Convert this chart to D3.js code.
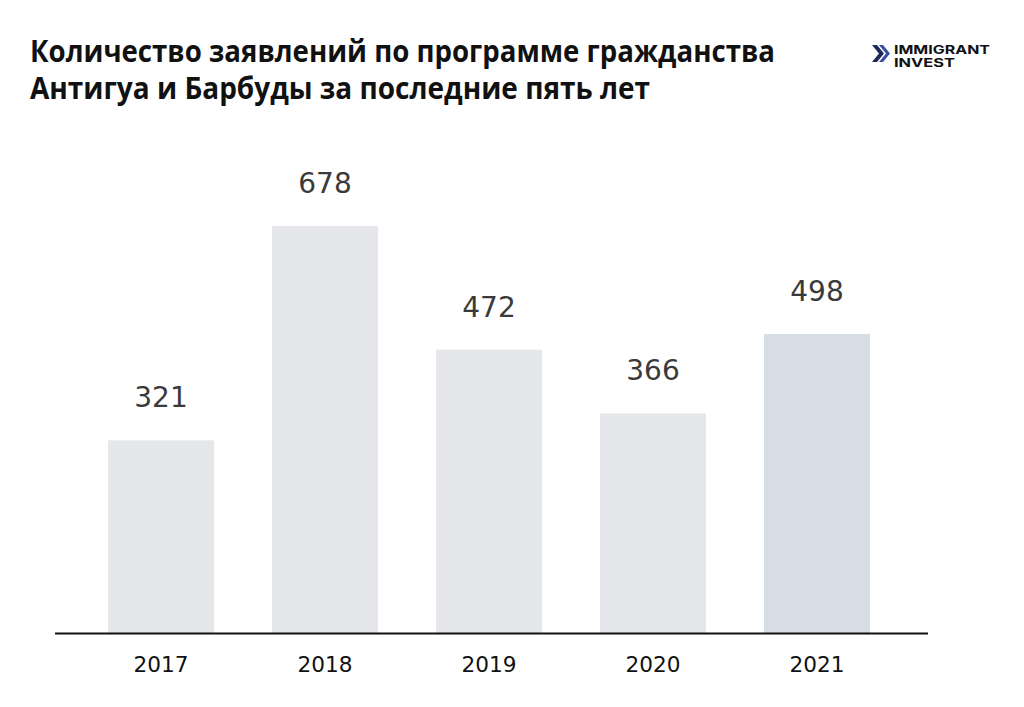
<!DOCTYPE html>
<html><head><meta charset="utf-8">
<script src="https://cdn.jsdelivr.net/npm/d3@7"></script>
<style>body{margin:0;background:#fff}svg{display:block}</style>
</head><body>
<svg id="c" width="1024" height="707"></svg>
<script>
const years = ["2017","2018","2019","2020","2021"];
const values = [321, 678, 472, 366, 498];
const titleLines = ["Количество заявлений по программе гражданства", "Антигуа и Барбуды за последние пять лет"];
const logoLines = ["IMMIGRANT", "INVEST"];

const svg = d3.select("#c");
svg.append("rect").attr("width",1024).attr("height",707).attr("fill","#fff");

const x = d3.scaleBand().domain(years).range([79, 899]).paddingInner(0.354).paddingOuter(0.177);
const y = d3.scaleLinear().domain([0, 678]).range([633, 226]);

svg.append("g").selectAll("rect").data(years).join("rect")
  .attr("x", d => x(d)).attr("width", x.bandwidth())
  .attr("y", (d,i) => y(values[i])).attr("height", (d,i) => y(0) - y(values[i]))
  .attr("fill", (d,i) => i === 4 ? "#d6dde5" : "#e6e7eb");

svg.append("g").selectAll("text").data(years).join("text")
  .attr("x", d => x(d) + x.bandwidth()/2).attr("y", (d,i) => y(values[i]) - 33)
  .attr("text-anchor","middle").attr("font-family","DejaVu Sans").attr("font-size",28)
  .attr("fill","#3a3a3a").text((d,i) => values[i]);

const axis = svg.append("g").attr("transform","translate(0,633)")
  .call(d3.axisBottom(x).tickSize(0).tickPadding(23));
axis.select(".domain").remove();
axis.append("line").attr("x1",55).attr("x2",928).attr("y1",0.5).attr("y2",0.5).attr("stroke","#111").attr("stroke-width",2);
axis.selectAll(".tick text").attr("font-family","DejaVu Sans").attr("font-size",22).attr("fill","#111")
  .attr("textLength",55).attr("lengthAdjust","spacingAndGlyphs");

const t = svg.append("g");
titleLines.forEach((s,i) => {
  t.append("text").attr("x",30).attr("y",62 + i*37).attr("font-family","Open Sans").attr("font-weight",700)
   .attr("font-size",30).attr("fill","#111").attr("textLength", i===0?745:620).attr("lengthAdjust","spacingAndGlyphs").text(s);
});

const lg = svg.append("g");
lg.append("path").attr("d","M872,45 L877,45 L884,53.5 L877,62 L872,62 L879,53.5 Z").attr("fill","#1c2a5a");
lg.append("path").attr("d","M879,45 L883,45 L890,53.5 L883,62 L879,62 L886,53.5 Z").attr("fill","#3a4ea0");
logoLines.forEach((s,i) => {
  lg.append("text").attr("x",894).attr("y",54 + i*13).attr("font-family","Inter").attr("font-weight",700)
    .attr("font-size",12).attr("fill","#111").attr("textLength", i===0?96:61).attr("lengthAdjust","spacingAndGlyphs").text(s);
});
</script>
</body></html>
